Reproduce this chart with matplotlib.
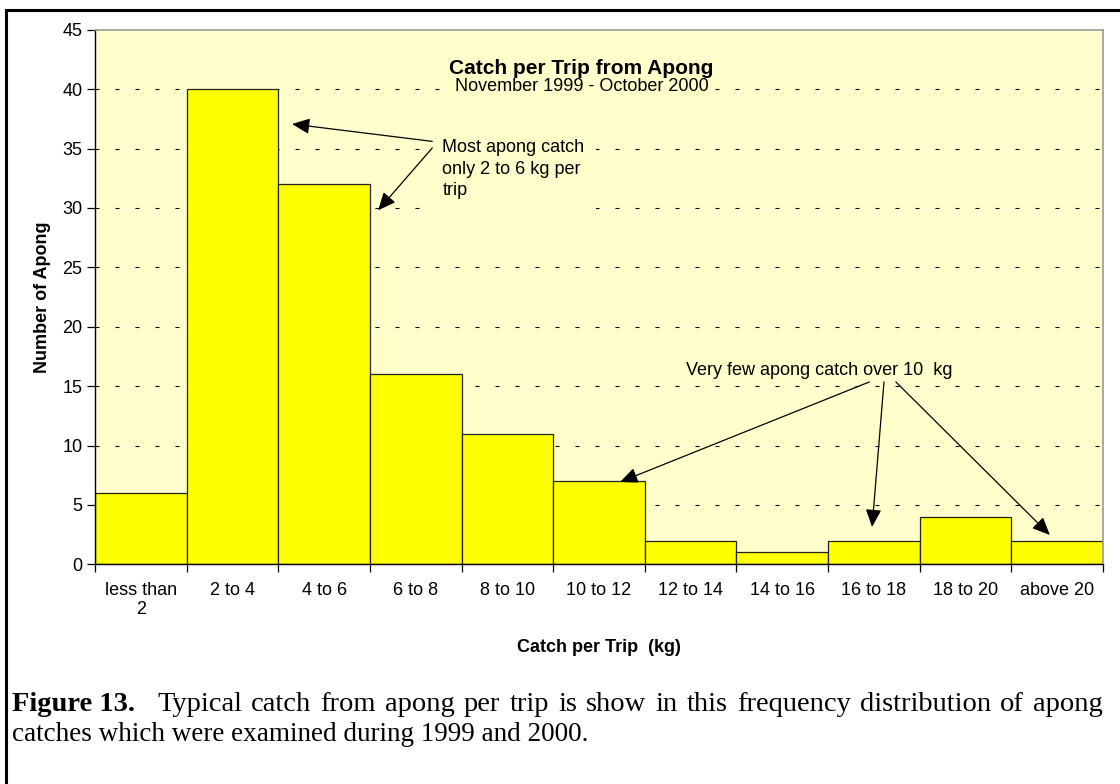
import matplotlib
matplotlib.use("Agg")
import matplotlib.pyplot as plt
from matplotlib.patches import Rectangle

categories = ["less than\n2", "2 to 4", "4 to 6", "6 to 8", "8 to 10", "10 to 12",
              "12 to 14", "14 to 16", "16 to 18", "18 to 20", "above 20"]
counts = [6, 40, 32, 16, 11, 7, 2, 1, 2, 4, 2]
yticks = [0, 5, 10, 15, 20, 25, 30, 35, 40, 45]

title = "Catch per Trip from Apong"
subtitle = "November 1999 - October 2000"
xlabel = "Catch per Trip  (kg)"
ylabel = "Number of Apong"
note1 = "Most apong catch\nonly 2 to 6 kg per\ntrip"
note2 = "Very few apong catch over 10  kg"
cap_bold = "Figure 13."
cap_rest1 = "Typical catch from apong per trip is show in this frequency distribution of apong"
cap_line2 = "catches which were examined during 1999 and 2000."

SANS = ["Liberation Sans", "DejaVu Sans"]
SERIF = ["Liberation Serif", "DejaVu Serif"]
FS = 13
BG = "#FFFFCC"

fig = plt.figure(figsize=(11.2, 7.84), dpi=100)
W, H = 1120, 784

def fx(px):
    return px / W

def fy(py):
    return 1 - py / H

# outer border (extends beyond right and bottom edges)
fig.patches.append(Rectangle((fx(6), fy(1000)), 2.0, fy(10) - fy(1000),
                             transform=fig.transFigure, fill=False,
                             edgecolor="black", linewidth=2.2, zorder=0))

ax = fig.add_axes([fx(95), fy(564.3), fx(1103) - fx(95), fy(29.7) - fy(564.3)])
ax.set_facecolor(BG)

x = list(range(len(categories)))
ax.bar(x, counts, width=1.0, color="#FFFF00", edgecolor="#222222", linewidth=0.9, zorder=2)

ax.set_xlim(-0.5, len(categories) - 0.5)
ax.set_ylim(0, 45)
ax.set_yticks(yticks)
ax.set_yticklabels([str(v) for v in yticks], fontsize=FS, family=SANS)
for v in yticks[1:-1]:
    ax.axhline(v, color="black", linestyle=(0, (3.6, 14.4)), linewidth=0.8, zorder=1)

ax.set_xticks(x)
ax.set_xticklabels(categories, fontsize=FS, family=SANS, linespacing=1.15)
ax.tick_params(axis="x", which="major", length=0, pad=13)
ax.set_xticks([i - 0.5 for i in range(len(categories) + 1)], minor=True)
ax.tick_params(axis="x", which="minor", length=6, width=0.9, color="black", direction="out")
ax.tick_params(axis="y", length=6, width=0.9, direction="out", pad=3)

for s in ["left", "bottom"]:
    ax.spines[s].set_color("black")
    ax.spines[s].set_linewidth(1.0)
for s in ["top", "right"]:
    ax.spines[s].set_color("#999999")
    ax.spines[s].set_linewidth(1.2)

ax.set_xlabel(xlabel, fontsize=FS, fontweight="bold", family=SANS, labelpad=15)
ax.set_ylabel(ylabel, fontsize=FS, fontweight="bold", family=SANS, labelpad=8)

ax.text(4.81, 40.2, subtitle, fontsize=FS, family=SANS, ha="center", va="center", zorder=3,
        bbox=dict(facecolor=BG, edgecolor="none", pad=1.5))
ax.text(4.81, 41.75, title, fontsize=15, fontweight="bold", family=SANS, ha="center", va="center",
        zorder=5)

arrow_kw = dict(arrowstyle="-|>,head_length=0.9,head_width=0.4", color="black",
                lw=0.9, shrinkA=0, shrinkB=0, mutation_scale=12)

ax.text(3.29, 35.8, note1, fontsize=FS, family=SANS, ha="left", va="top", linespacing=1.36,
        zorder=3, bbox=dict(facecolor=BG, edgecolor="none", pad=8))
ax.annotate("", xy=(1.65, 37.06), xytext=(3.18, 35.6), arrowprops=arrow_kw, zorder=4)
ax.annotate("", xy=(2.59, 29.8), xytext=(3.18, 35.04), arrowprops=arrow_kw, zorder=4)

ax.text(7.40, 16.35, note2, fontsize=FS, family=SANS, ha="center", va="center")
ax.annotate("", xy=(5.23, 6.93), xytext=(7.95, 15.35), arrowprops=arrow_kw)
ax.annotate("", xy=(7.98, 3.14), xytext=(8.11, 15.35), arrowprops=arrow_kw)
ax.annotate("", xy=(9.92, 2.47), xytext=(8.24, 15.35), arrowprops=arrow_kw)

# caption (first line justified to the right edge of the chart)
CFS1 = 20.5
CFS2 = 19.5
y1, y2 = 711, 741
t1 = fig.text(fx(12), fy(y1), cap_bold, fontsize=CFS1, fontweight="bold", family=SERIF,
              ha="left", va="baseline")
fig.canvas.draw()
r = fig.canvas.get_renderer()
start = t1.get_window_extent(r).x1 + 22
words = cap_rest1.split()
tw = []
for w in words:
    t = fig.text(0, 0, w, fontsize=CFS1, family=SERIF)
    tw.append(t.get_window_extent(r).width)
    t.remove()
gap = (1103 - start - sum(tw)) / (len(words) - 1)
xx = start
for w, wd in zip(words, tw):
    fig.text(fx(xx), fy(y1), w, fontsize=CFS1, family=SERIF, ha="left", va="baseline")
    xx += wd + gap
fig.text(fx(12), fy(y2), cap_line2, fontsize=CFS2, family=SERIF, ha="left", va="baseline")

fig.savefig("out.png", dpi=100, facecolor="white")
